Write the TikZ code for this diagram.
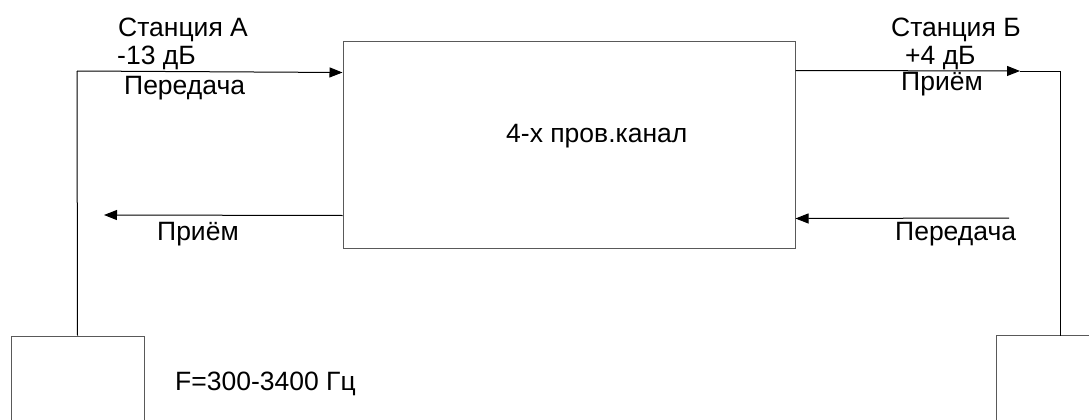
\documentclass[tikz,border=0pt]{standalone}
\usepackage{fontspec}
\setmainfont{Liberation Sans}
\usetikzlibrary{arrows.meta}
\begin{document}
\begin{tikzpicture}[x=1pt,y=-1pt,
  box/.style={draw=black!65,line width=1pt,fill=none,inner sep=0pt},
  wire/.style={draw=black,line width=1pt},
  arr/.style={wire,-{Triangle[length=13pt,width=10pt]}},
  lbl/.style={anchor=base west,inner sep=0pt,font=\fontsize{26.5}{30}\selectfont}]
\useasboundingbox (0,0) rectangle (1089,420);
\node[box,minimum width=452pt,minimum height=206pt] (ch) at (569,145) {};
\node[box,minimum width=133pt,minimum height=120pt] (bA) at (77.5,396) {};
\node[minimum width=92pt,minimum height=120pt,inner sep=0pt] (bB) at (1043,396) {};
\draw[draw=black!65,line width=1pt] (bB.south west) -- (bB.north west) -- (bB.north east);
\coordinate (a1) at (77,71);
\coordinate (b1) at (1060,71);
\coordinate (b2) at (1020,71);
\coordinate (a2) at (104,215);
\coordinate (b3) at (1009,218);
\draw[wire] (bA.north) -- (a1);
\draw[arr] (a1) -- ([yshift=-31pt]ch.north west);
\draw[arr] ([yshift=-29pt]ch.north east) -- (b2);
\draw[wire] (b2) -- (b1) -- (b1 |- bB.north);
\draw[arr] ([yshift=33pt]ch.south west) -- (a2);
\draw[arr] (b3) -- ([yshift=30pt]ch.south east);
\node[lbl] (t1) at (118,37) {Станция А};
\node[lbl] (t2) at (117,64) {-13 дБ};
\node[lbl] (t3) at (124,94) {Передача};
\node[lbl] (t4) at (891,37) {Станция Б};
\node[lbl] (t5) at (905,64) {+4 дБ};
\node[lbl] (t6) at (901,90) {Приём};
\node[lbl] (t7) at (506,142) {4-х пров.канал};
\node[lbl] (t8) at (157,240) {Приём};
\node[lbl] (t9) at (895,240) {Передача};
\node[lbl] (t10) at (175,390) {F=300-3400 Гц};
\end{tikzpicture}
\end{document}
